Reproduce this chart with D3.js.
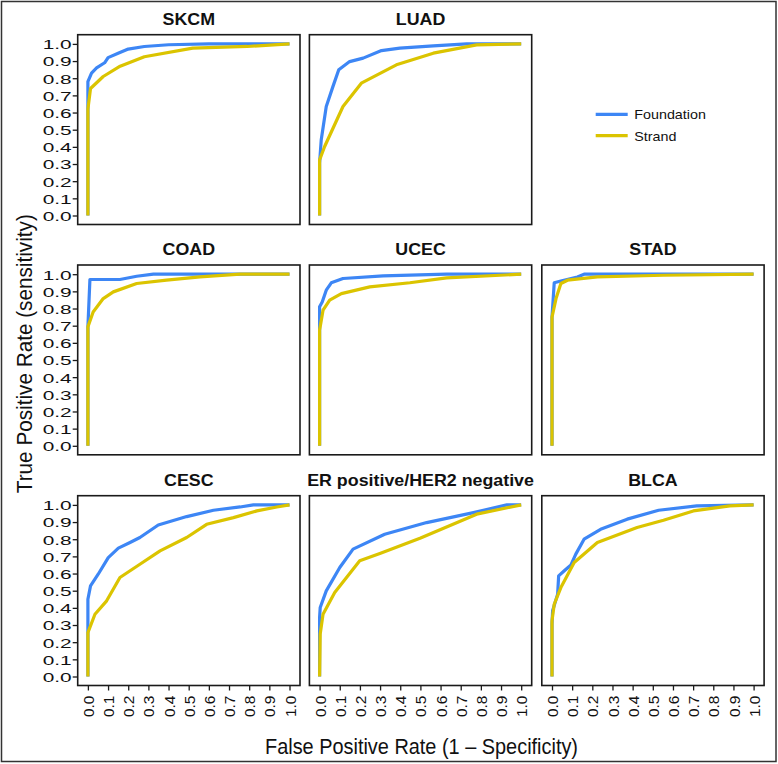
<!DOCTYPE html>
<html><head><meta charset="utf-8">
<script src="https://cdn.jsdelivr.net/npm/d3@7"></script>
<style>body{margin:0;background:#fff}svg{display:block}</style>
</head><body>
<svg id="c" width="778" height="764"></svg>
<script>
// ---- data (FPR, TPR) ----
const panelNames = ["SKCM","LUAD","COAD","UCEC","STAD","CESC","ER positive/HER2 negative","BLCA"];
const seriesNames = ["Foundation","Strand"];
const tickValues = [0,0.1,0.2,0.3,0.4,0.5,0.6,0.7,0.8,0.9,1.0];

const skcmFoundation = [[0,0],[0,0.62],[0,0.78],[0.018,0.83],[0.043,0.86],[0.083,0.89],[0.1,0.92],[0.15,0.945],[0.2,0.97],[0.28,0.985],[0.4,0.995],[0.6,1],[1,1]];
const skcmStrand = [[0,0],[0,0.62],[0.013,0.74],[0.076,0.81],[0.16,0.87],[0.28,0.925],[0.52,0.975],[0.79,0.985],[1,1]];
const luadFoundation = [[0,0],[0,0.305],[0.008,0.44],[0.033,0.635],[0.066,0.751],[0.095,0.849],[0.149,0.897],[0.216,0.917],[0.307,0.961],[0.398,0.975],[0.564,0.988],[0.73,1],[1,1]];
const luadStrand = [[0,0],[0,0.324],[0.025,0.402],[0.116,0.635],[0.207,0.771],[0.381,0.878],[0.564,0.946],[0.779,0.994],[1,1]];
const coadFoundation = [[0,0],[0,0.693],[0.01,0.969],[0.159,0.969],[0.242,0.988],[0.325,1],[1,1]];
const coadStrand = [[0,0],[0,0.693],[0.026,0.78],[0.076,0.858],[0.126,0.897],[0.242,0.946],[0.39,0.965],[0.556,0.984],[0.755,1],[1,1]];
const ucecFoundation = [[0,0],[0,0.674],[0,0.81],[0.013,0.838],[0.033,0.907],[0.058,0.95],[0.116,0.975],[0.315,0.99],[0.63,1],[1,1]];
const ucecStrand = [[0,0],[0,0.674],[0.017,0.79],[0.05,0.849],[0.108,0.887],[0.249,0.926],[0.448,0.95],[0.63,0.979],[1,1]];
const stadFoundation = [[0,0],[0,0.75],[0.011,0.95],[0.044,0.96],[0.126,0.984],[0.159,1],[1,1]];
const stadStrand = [[0,0],[0,0.75],[0.02,0.858],[0.044,0.946],[0.077,0.965],[0.225,0.984],[0.553,0.994],[1,1]];
const cescFoundation = [[0,0],[0,0.247],[0,0.45],[0.013,0.528],[0.051,0.596],[0.101,0.693],[0.151,0.748],[0.209,0.781],[0.258,0.81],[0.349,0.883],[0.49,0.932],[0.623,0.969],[0.755,0.988],[0.821,1],[1,1]];
const cescStrand = [[0,0],[0,0.256],[0.035,0.363],[0.093,0.441],[0.159,0.577],[0.258,0.654],[0.358,0.732],[0.49,0.81],[0.589,0.887],[0.722,0.926],[0.838,0.965],[0.937,0.988],[1,1]];
const erFoundation = [[0,0],[0,0.344],[0.003,0.402],[0.033,0.499],[0.1,0.635],[0.166,0.742],[0.323,0.829],[0.531,0.897],[0.763,0.955],[0.929,1],[1,1]];
const erStrand = [[0,0],[0.003,0.247],[0.017,0.363],[0.075,0.489],[0.199,0.674],[0.299,0.717],[0.498,0.806],[0.779,0.946],[1,1]];
const blcaFoundation = [[0,0],[0,0.305],[0.003,0.383],[0.028,0.48],[0.033,0.586],[0.061,0.616],[0.094,0.65],[0.118,0.713],[0.159,0.8],[0.241,0.858],[0.373,0.917],[0.529,0.969],[0.718,0.994],[1,1]];
const blcaStrand = [[0,0],[0,0.324],[0.011,0.421],[0.044,0.518],[0.11,0.664],[0.225,0.781],[0.422,0.868],[0.553,0.911],[0.701,0.965],[0.882,0.994],[1,1]];

const foundationSeries = [skcmFoundation,luadFoundation,coadFoundation,ucecFoundation,stadFoundation,cescFoundation,erFoundation,blcaFoundation];
const strandSeries = [skcmStrand,luadStrand,coadStrand,ucecStrand,stadStrand,cescStrand,erStrand,blcaStrand];

// ---- layout ----
const colors = {Foundation:"#3d86f5", Strand:"#dbc400"};
const cellPos = [[0,0],[0,1],[1,0],[1,1],[1,2],[2,0],[2,1],[2,2]]; // [row,col]
const colLeft = [77.7, 309.4, 541.8];
const rowTop = [34.7, 265.0, 495.7];
const boxW = 222.3, boxH = 189.8;

const svg = d3.select("#c");
const fmt = d3.format(".1f");

// outer frame
svg.append("rect").attr("x",1.5).attr("y",1.5).attr("width",774.5).attr("height",760)
  .attr("fill","none").attr("stroke","#333").attr("stroke-width",1.5);

function stretch(sel, f){
  sel.each(function(){ const L=this.getComputedTextLength(); d3.select(this).attr("textLength",L*f).attr("lengthAdjust","spacingAndGlyphs"); });
}

panelNames.forEach((name,i)=>{
  const [r,c] = cellPos[i];
  const L = colLeft[c], T = rowTop[r];
  const x = d3.scaleLinear().domain([0,1]).range([L+10.2, L+211.8]);
  const y = d3.scaleLinear().domain([0,1]).range([T+180.8, T+9.2]);
  const g = svg.append("g");

  const line = d3.line().x(d=>x(d[0])).y(d=>y(d[1]));
  [[foundationSeries[i],"Foundation"],[strandSeries[i],"Strand"]].forEach(([d,s])=>{
    g.append("path").datum(d).attr("d",line).attr("fill","none")
      .attr("stroke",colors[s]).attr("stroke-width",3.2).attr("stroke-linejoin","round");
  });

  g.append("rect").attr("x",L).attr("y",T).attr("width",boxW).attr("height",boxH)
    .attr("fill","none").attr("stroke","#1a1a1a").attr("stroke-width",1.6);

  const t = g.append("text").attr("x",L+boxW/2).attr("y",T-10).attr("text-anchor","middle")
    .attr("font-family","Liberation Sans, Arial, sans-serif").attr("font-weight","bold")
    .attr("font-size",16.5).attr("fill","#111").text(name);
  stretch(t,1.08);

  if(c===0){
    const ax = g.append("g").attr("transform",`translate(${L},0)`)
      .call(d3.axisLeft(y).tickValues(tickValues).tickFormat(fmt).tickSize(5).tickSizeOuter(0));
    ax.select(".domain").remove();
    ax.selectAll(".tick line").attr("stroke","#1a1a1a").attr("stroke-width",1.3);
    ax.selectAll(".tick text").attr("font-family","Liberation Sans, Arial, sans-serif")
      .attr("font-size",13.5).attr("fill","#111").attr("x",-6).attr("dy","0.36em")
      .attr("textLength",29).attr("lengthAdjust","spacingAndGlyphs");
  }
  if(r===2){
    const ax = g.append("g").attr("transform",`translate(0,${T+boxH})`)
      .call(d3.axisBottom(x).tickValues(tickValues).tickFormat(fmt).tickSize(5).tickSizeOuter(0));
    ax.select(".domain").remove();
    ax.selectAll(".tick line").attr("stroke","#1a1a1a").attr("stroke-width",1.3);
    ax.selectAll(".tick text").attr("font-family","Liberation Sans, Arial, sans-serif")
      .attr("font-size",15.5).attr("fill","#111")
      .attr("transform","rotate(-90)").attr("x",-10).attr("y",0).attr("dy","0.36em")
      .attr("text-anchor","end");
  }
});

// legend
seriesNames.forEach((s,k)=>{
  const yy = 114.3 + k*21.4;
  svg.append("line").attr("x1",595.7).attr("x2",627.7).attr("y1",yy).attr("y2",yy)
    .attr("stroke",colors[s]).attr("stroke-width",3.2);
  const t = svg.append("text").attr("x",634.3).attr("y",yy+4.8)
    .attr("font-family","Liberation Sans, Arial, sans-serif").attr("font-size",13)
    .attr("fill","#111").text(s);
  stretch(t,1.1);
});

// axis titles
svg.append("text").attr("x",421.5).attr("y",754).attr("text-anchor","middle")
  .attr("font-family","Liberation Sans Narrow, Arial Narrow, sans-serif").attr("font-size",22.5)
  .attr("fill","#111").attr("textLength",313).attr("lengthAdjust","spacingAndGlyphs")
  .text("False Positive Rate (1 – Specificity)");
svg.append("text").attr("transform","translate(31.5,353.7) rotate(-90)").attr("text-anchor","middle")
  .attr("font-family","Liberation Sans Narrow, Arial Narrow, sans-serif").attr("font-size",21.5)
  .attr("fill","#111").attr("textLength",279).attr("lengthAdjust","spacingAndGlyphs")
  .text("True Positive Rate (sensitivity)");
</script>
</body></html>
